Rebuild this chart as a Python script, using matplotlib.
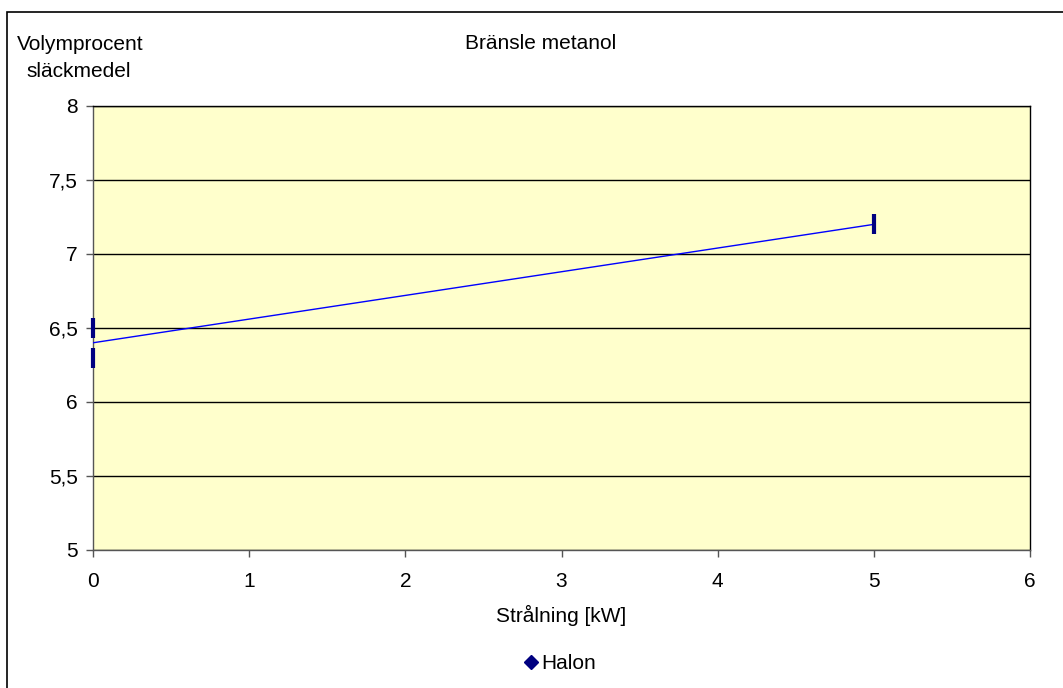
import numpy as np
import matplotlib.pyplot as plt
from matplotlib.lines import Line2D
from matplotlib.patches import Rectangle

plt.rcParams['font.family'] = ['Liberation Sans', 'DejaVu Sans']

# Data
stralning = np.array([0, 0, 5])
halon = np.array([6.5, 6.3, 7.2])
y_ticks = [5, 5.5, 6, 6.5, 7, 7.5, 8]
x_ticks = [0, 1, 2, 3, 4, 5, 6]


def calculate_trend(x, y):
    # linear trend (least squares)
    x_mean = np.mean(x)
    y_mean = np.mean(y)
    a = np.sum((x - x_mean) * (y - y_mean)) / np.sum((x - x_mean) ** 2)
    b = y_mean - a * x_mean
    return a, b


slope, intercept = calculate_trend(stralning, halon)
x_trend = np.array([stralning.min(), stralning.max()])
y_trend = slope * x_trend + intercept

fig = plt.figure(figsize=(10.63, 6.88), dpi=100)
ax = fig.add_axes([0.0875, 0.2006, 0.8815, 0.6454])
ax.set_facecolor('#FFFFCC')

ax.plot(x_trend, y_trend, color='#0000FF', linewidth=1, zorder=3)
ax.plot(stralning, halon, linestyle='none', marker='|', markersize=15,
        markeredgewidth=3, color='#000080', clip_on=False, zorder=4)

ax.set_xlim(0, 6)
ax.set_ylim(5, 8)
ax.set_xticks(x_ticks)
ax.set_yticks(y_ticks)
ax.set_yticklabels([f'{v:g}'.replace('.', ',') for v in y_ticks])
ax.tick_params(labelsize=15, length=5, width=1, color='#555555')
ax.tick_params(axis='x', pad=11)
ax.tick_params(axis='y', pad=6)
ax.grid(axis='y', color='black', linewidth=1)
ax.set_axisbelow(True)
for s in ax.spines.values():
    s.set_color('black')
    s.set_linewidth(1)
ax.spines['left'].set_color('#555555')
ax.spines['bottom'].set_color('#555555')

fig.text(0.509, 0.937, 'Bränsle metanol', ha='center', va='center', fontsize=15)
fig.text(0.016, 0.935, 'Volymprocent', ha='left', va='center', fontsize=15)
fig.text(0.025, 0.896, 'släckmedel', ha='left', va='center', fontsize=15)
fig.text(0.528, 0.106, 'Strålning [kW]', ha='center', va='center', fontsize=15)

handle = Line2D([], [], linestyle='none', marker='D', markersize=7,
                color='#000080', label='Halon')
fig.legend(handles=[handle], loc='center', bbox_to_anchor=(0.525, 0.035),
           frameon=False, fontsize=15, handletextpad=0.0, handlelength=1.0)

# chart border
fig.patches.append(Rectangle((0.0066, -0.01), 1.0, 0.9926, transform=fig.transFigure,
                             fill=False, edgecolor='black', linewidth=1.2))

fig.savefig('out.png', dpi=100)
